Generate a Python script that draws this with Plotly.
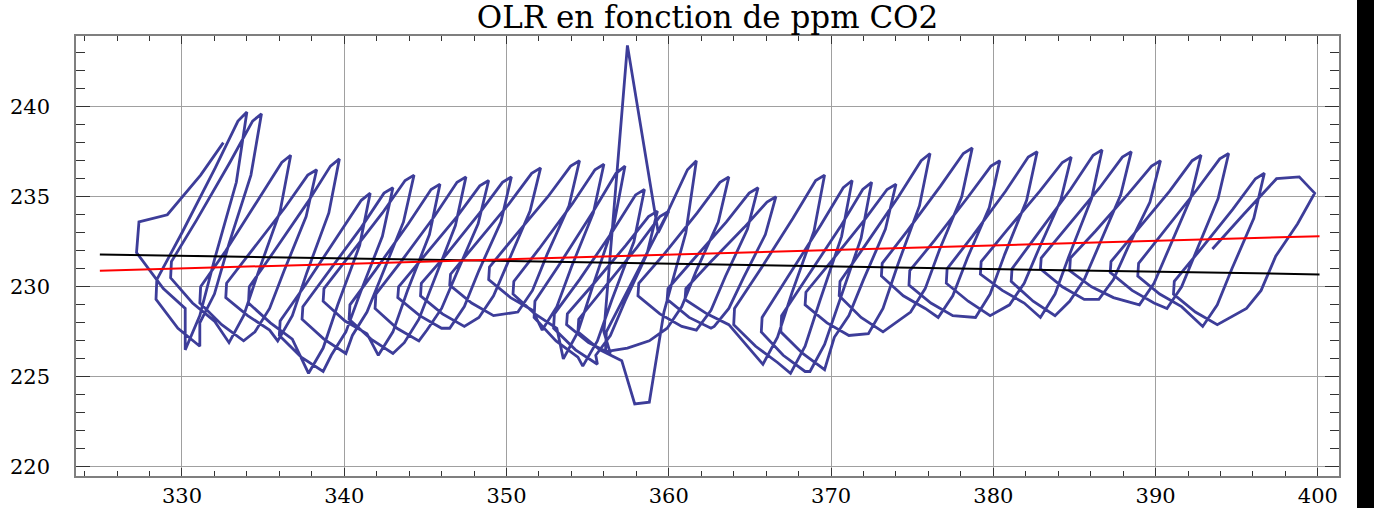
import plotly.graph_objects as go

# Monthly CO2 (ppm) and OLR (W/m2), Jun 1974 .. Sep 2013
co2 = [
    332.55, 331.15, 329.1, 327.35, 327.2, 328.85, 330.2,  # 1974 Jun-Dec
    330.2, 331.1, 332.0, 333.35, 334.0, 333.45, 332.05, 330.0, 328.45, 328.4, 329.75, 331.1,  # 1975
    331.1, 332.0, 332.9, 334.25, 334.9, 334.35, 332.95, 330.9, 329.35, 329.3, 330.65, 332.0,  # 1976
    332.9, 333.8, 334.7, 336.05, 336.7, 336.15, 334.75, 332.7, 331.15, 331.1, 332.45, 333.8,  # 1977
    334.5, 335.4, 336.3, 337.65, 338.3, 337.75, 336.35, 334.3, 332.75, 332.7, 334.05, 335.4,  # 1978
    335.9, 336.8, 337.7, 339.05, 339.7, 339.15, 337.75, 335.7, 334.15, 334.1, 335.45, 336.8,  # 1979
    337.8, 338.7, 339.6, 340.95, 341.6, 341.05, 339.65, 337.6, 336.05, 336.0, 337.35, 338.7,  # 1980
    339.2, 340.1, 341.0, 342.35, 343.0, 342.45, 341.05, 339.0, 337.45, 337.4, 338.75, 340.1,  # 1981
    340.5, 341.4, 342.3, 343.65, 344.3, 343.75, 342.35, 340.3, 338.75, 338.7, 340.05, 341.4,  # 1982
    342.1, 343.0, 343.9, 345.25, 345.9, 345.35, 343.95, 341.9, 340.35, 340.3, 341.65, 343.0,  # 1983
    343.7, 344.6, 345.5, 346.85, 347.5, 346.95, 345.55, 343.5, 341.95, 341.9, 343.25, 344.6,  # 1984
    345.1, 346.0, 346.9, 348.25, 348.9, 348.35, 346.95, 344.9, 343.35, 343.3, 344.65, 346.0,  # 1985
    346.5, 347.4, 348.3, 349.65, 350.3, 349.75, 348.35, 346.3, 344.75, 344.7, 346.05, 347.4,  # 1986
    348.3, 349.2, 350.1, 351.45, 352.1, 351.55, 350.15, 348.1, 346.55, 346.5, 347.85, 349.2,  # 1987
    350.7, 351.6, 352.5, 353.85, 354.5, 353.95, 352.55, 350.5, 348.95, 348.9, 350.25, 351.6,  # 1988
    352.2, 353.1, 354.0, 355.35, 356.0, 355.45, 354.05, 352.0, 350.45, 350.4, 351.75, 353.1,  # 1989
    353.5, 354.4, 355.3, 356.65, 357.3, 356.75, 355.35, 353.3, 351.75, 351.7, 353.05, 354.4,  # 1990
    354.7, 355.6, 356.5, 357.85, 358.5, 357.95, 356.55, 354.5, 352.95, 352.9, 354.25, 355.6,  # 1991
    355.5, 356.4, 357.3, 358.65, 359.3, 358.75, 357.35, 355.3, 353.75, 353.7, 355.05, 356.4,  # 1992
    356.0, 357.45, 359.1, 359.35, 360.0, 359.45, 358.05, 356.0, 354.45, 354.4, 355.75, 357.1,  # 1993
    357.9, 358.8, 359.7, 361.05, 361.7, 361.15, 359.75, 357.7, 356.15, 356.1, 357.45, 358.8,  # 1994
    359.9, 360.8, 361.7, 363.05, 363.7, 363.15, 361.75, 359.7, 358.15, 358.1, 359.45, 360.8,  # 1995
    361.7, 362.6, 363.5, 364.85, 365.5, 364.95, 363.55, 361.5, 359.95, 359.9, 361.25, 362.6,  # 1996
    362.8, 363.7, 364.6, 365.95, 366.6, 366.05, 364.65, 362.6, 361.05, 361.0, 362.35, 363.7,  # 1997
    365.8, 366.7, 367.6, 368.95, 369.6, 369.05, 367.65, 365.6, 364.05, 364.0, 365.35, 366.7,  # 1998
    367.5, 368.4, 369.3, 370.65, 371.3, 370.75, 369.35, 367.3, 365.75, 365.7, 367.05, 368.4,  # 1999
    368.7, 369.6, 370.5, 371.85, 372.5, 371.95, 370.55, 368.5, 366.95, 366.9, 368.25, 369.6,  # 2000
    370.2, 371.1, 372.0, 373.35, 374.0, 373.45, 372.05, 370.0, 368.45, 368.4, 369.75, 371.1,  # 2001
    372.3, 373.2, 374.1, 375.45, 376.1, 375.55, 374.15, 372.1, 370.55, 370.5, 371.85, 373.2,  # 2002
    374.9, 375.8, 376.7, 378.05, 378.7, 378.15, 376.75, 374.7, 373.15, 373.1, 374.45, 375.8,  # 2003
    376.6, 377.5, 378.4, 379.75, 380.4, 379.85, 378.45, 376.4, 374.85, 374.8, 376.15, 377.5,  # 2004
    378.9, 379.8, 380.7, 382.05, 382.7, 382.15, 380.75, 378.7, 377.15, 377.1, 378.45, 379.8,  # 2005
    381.0, 381.9, 382.8, 384.15, 384.8, 384.25, 382.85, 380.8, 379.25, 379.2, 380.55, 381.9,  # 2006
    382.9, 383.8, 384.7, 386.05, 386.7, 386.15, 384.75, 382.7, 381.15, 381.1, 382.45, 383.8,  # 2007
    384.7, 385.6, 386.5, 387.85, 388.5, 387.95, 386.55, 384.5, 382.95, 382.9, 384.25, 385.6,  # 2008
    386.5, 387.4, 388.3, 389.65, 390.3, 389.75, 388.35, 386.3, 384.75, 384.7, 386.05, 387.4,  # 2009
    389.0, 389.9, 390.8, 392.15, 392.8, 392.25, 390.85, 388.8, 387.25, 387.2, 388.55, 389.9,  # 2010
    390.7, 391.6, 392.5, 393.85, 394.5, 393.95, 392.55, 390.5, 388.95, 388.9, 390.25, 391.6,  # 2011
    392.9, 393.8, 394.7, 396.05, 396.7, 396.15, 394.75, 392.7, 391.15, 391.1, 392.45, 393.8,  # 2012
    395.6, 396.5, 397.4, 398.75, 399.8, 398.85, 397.45, 395.4, 393.5,  # 2013 Jan-Sep
]

olr = [
    238.0, 236.2, 234.0, 233.6, 231.9, 229.9, 228.8,  # 1974 Jun-Dec
    226.5, 228.4, 231.5, 235.8, 239.7, 239.2, 236.6, 233.0, 230.4, 229.3, 227.7, 226.7,  # 1975
    228.0, 229.6, 232.4, 236.2, 239.6, 239.2, 236.9, 233.7, 231.4, 230.5, 229.1, 228.1,  # 1976
    226.9, 228.4, 230.8, 234.2, 237.3, 236.9, 234.9, 232.0, 230.0, 229.1, 227.9, 227.0,  # 1977
    227.5, 228.8, 230.9, 233.9, 236.5, 236.2, 234.4, 232.0, 230.2, 229.4, 228.4, 227.6,  # 1978
    227.0, 228.4, 230.8, 234.1, 237.1, 236.7, 234.7, 232.0, 230.0, 229.1, 228.0, 227.1,  # 1979
    225.2, 226.6, 229.0, 232.3, 235.2, 234.8, 232.9, 230.1, 228.1, 227.3, 226.1, 225.3,  # 1980
    226.2, 227.5, 229.7, 232.8, 235.5, 235.2, 233.3, 230.8, 228.9, 228.2, 227.1, 226.3,  # 1981
    227.3, 228.6, 230.6, 233.6, 236.2, 235.9, 234.1, 231.7, 229.9, 229.2, 228.1, 227.4,  # 1982
    226.2, 227.5, 229.8, 232.9, 235.7, 235.4, 233.5, 230.9, 229.0, 228.2, 227.1, 226.3,  # 1983
    226.9, 228.2, 230.3, 233.4, 236.1, 235.8, 233.9, 231.4, 229.6, 228.8, 227.7, 227.0,  # 1984
    227.6, 228.8, 230.7, 233.5, 235.9, 235.6, 233.9, 231.7, 230.0, 229.4, 228.4, 227.7,  # 1985
    227.7, 228.9, 230.9, 233.6, 236.1, 235.8, 234.1, 231.8, 230.2, 229.5, 228.5, 227.8,  # 1986
    228.3, 229.5, 231.4, 234.2, 236.6, 236.3, 234.6, 232.4, 230.7, 230.1, 229.1, 228.4,  # 1987
    228.6, 229.8, 231.8, 234.5, 237.0, 236.7, 235.0, 232.8, 231.1, 230.4, 229.4, 228.7,  # 1988
    227.6, 228.9, 231.1, 234.1, 236.8, 236.5, 234.6, 232.1, 230.3, 229.6, 228.5, 227.7,  # 1989
    226.0, 227.5, 230.0, 233.6, 236.7, 236.3, 234.2, 231.3, 229.2, 228.3, 227.0, 226.1,  # 1990
    225.6, 227.0, 229.3, 232.5, 235.4, 235.1, 233.1, 230.4, 228.5, 227.7, 226.5, 225.7,  # 1991
    226.2, 227.3, 229.2, 231.8, 234.2, 233.9, 232.3, 230.1, 228.5, 227.9, 226.9, 226.3,  # 1992
    227.5, 243.4, 234.3, 233.0, 234.2, 233.9, 232.2, 229.9, 228.2, 227.5, 226.5, 225.9,  # 1993
    223.5, 223.6, 228.6, 233.0, 237.0, 236.5, 233.8, 230.2, 227.5, 226.4, 226.6, 227.0,  # 1994
    227.7, 228.9, 230.9, 233.6, 236.1, 235.8, 234.1, 231.8, 230.2, 229.5, 228.5, 227.8,  # 1995
    227.6, 228.7, 230.6, 233.2, 235.5, 235.2, 233.6, 231.5, 229.9, 229.3, 228.3, 227.7,  # 1996
    227.8, 228.8, 230.5, 232.9, 235.0, 234.7, 233.3, 231.4, 229.9, 229.3, 228.5, 227.9,  # 1997
    225.7, 227.2, 229.7, 233.1, 236.2, 235.9, 233.8, 230.9, 228.8, 227.9, 226.7, 225.8,  # 1998
    225.2, 226.7, 229.2, 232.8, 235.9, 235.5, 233.4, 230.5, 228.3, 227.5, 226.2, 225.3,  # 1999
    225.3, 226.8, 229.2, 232.7, 235.8, 235.4, 233.3, 230.5, 228.4, 227.5, 226.3, 225.4,  # 2000
    227.2, 228.4, 230.4, 233.2, 235.7, 235.4, 233.7, 231.4, 229.7, 229.0, 228.0, 227.3,  # 2001
    227.4, 228.8, 231.2, 234.5, 237.4, 237.0, 235.0, 232.3, 230.3, 229.5, 228.3, 227.5,  # 2002
    228.6, 229.9, 232.1, 235.0, 237.7, 237.4, 235.6, 233.1, 231.3, 230.6, 229.5, 228.8,  # 2003
    228.3, 229.5, 231.6, 234.4, 237.0, 236.7, 235.0, 232.6, 230.9, 230.1, 229.1, 228.4,  # 2004
    228.3, 229.6, 231.8, 234.8, 237.5, 237.2, 235.3, 232.8, 231.0, 230.2, 229.2, 228.4,  # 2005
    229.0, 230.2, 232.1, 234.8, 237.2, 236.9, 235.3, 233.1, 231.4, 230.7, 229.8, 229.1,  # 2006
    228.3, 229.6, 231.8, 234.9, 237.6, 237.3, 235.4, 232.9, 231.0, 230.3, 229.2, 228.4,  # 2007
    229.2, 230.4, 232.3, 235.1, 237.5, 237.2, 235.5, 233.3, 231.6, 231.0, 230.0, 229.3,  # 2008
    229.3, 230.4, 232.2, 234.7, 237.0, 236.7, 235.2, 233.1, 231.6, 230.9, 230.0, 229.4,  # 2009
    229.0, 230.2, 232.1, 234.9, 237.3, 237.0, 235.3, 233.1, 231.4, 230.8, 229.8, 229.1,  # 2010
    228.8, 230.0, 232.0, 234.9, 237.4, 237.1, 235.4, 233.1, 231.3, 230.6, 229.6, 228.9,  # 2011
    227.8, 229.0, 231.0, 233.8, 236.3, 236.0, 234.3, 232.0, 230.3, 229.6, 228.6, 227.9,  # 2012
    228.8, 229.8, 231.7, 233.5, 235.2, 236.1, 236.0, 234.0, 232.1,  # 2013 Jan-Sep
]

# Straight lines (end points)
fit_x = [324.94, 400.1]
fit_black_y = [231.8, 230.69]
fit_red_y = [230.89, 232.81]

title_text = "OLR en fonction de ppm CO2"
x_ticks = [330, 340, 350, 360, 370, 380, 390, 400]
y_ticks = [220, 225, 230, 235, 240]

W, H = 1374, 508
L, R, T, B = 76, 35, 36, 32

fig = go.Figure()
fig.add_trace(go.Scatter(x=co2, y=olr, mode="lines",
                         line=dict(color="rgb(61,61,153)", width=2.8),
                         showlegend=False, hoverinfo="skip"))
fig.add_trace(go.Scatter(x=fit_x, y=fit_black_y, mode="lines",
                         line=dict(color="black", width=2), showlegend=False))
fig.add_trace(go.Scatter(x=fit_x, y=fit_red_y, mode="lines",
                         line=dict(color="#ff0000", width=2), showlegend=False))

tickfont = dict(family="DejaVu Serif", size=21, color="black")
axis_common = dict(showline=True, linecolor="#7f7f7f", linewidth=1.5, mirror="allticks",
                   ticks="inside", tickcolor="#333333", tickwidth=1,
                   showgrid=True, gridcolor="#a0a0a0", gridwidth=1,
                   zeroline=False, tickfont=tickfont, automargin=False)

fig.update_xaxes(range=[323.47, 401.3], tickmode="array", tickvals=x_ticks,
                 ticktext=[str(v) for v in x_ticks], ticklen=8, ticklabelstandoff=0,
                 minor=dict(dtick=2, tick0=0, ticks="inside", ticklen=5,
                            tickcolor="#333333", showgrid=False),
                 **axis_common)
fig.update_yaxes(range=[219.5, 243.92], tickmode="array", tickvals=y_ticks,
                 ticktext=[str(v) for v in y_ticks], ticklen=14, ticklabelstandoff=20,
                 minor=dict(dtick=1, tick0=0, ticks="inside", ticklen=9,
                            tickcolor="#333333", showgrid=False),
                 **axis_common)

fig.update_layout(
    width=W, height=H,
    margin=dict(l=L, r=R, t=T, b=B, autoexpand=False),
    paper_bgcolor="white", plot_bgcolor="white",
    title=dict(text=title_text, x=0.5, xref="paper", xanchor="center",
               y=1 - 17 / H, yref="container", yanchor="middle",
               font=dict(family="DejaVu Serif", size=31, color="black")),
    shapes=[dict(type="rect", xref="paper", yref="paper",
                 x0=(1357 - L) / (W - L - R), x1=(1400 - L) / (W - L - R),
                 y0=-(B + 10) / (H - T - B), y1=1 + (T + 10) / (H - T - B),
                 fillcolor="black", line=dict(width=0), layer="above")],
)

fig.write_html("out.html", config={"displayModeBar": False},
               post_script="document.body.style.margin='0';document.body.style.overflow='hidden';")
